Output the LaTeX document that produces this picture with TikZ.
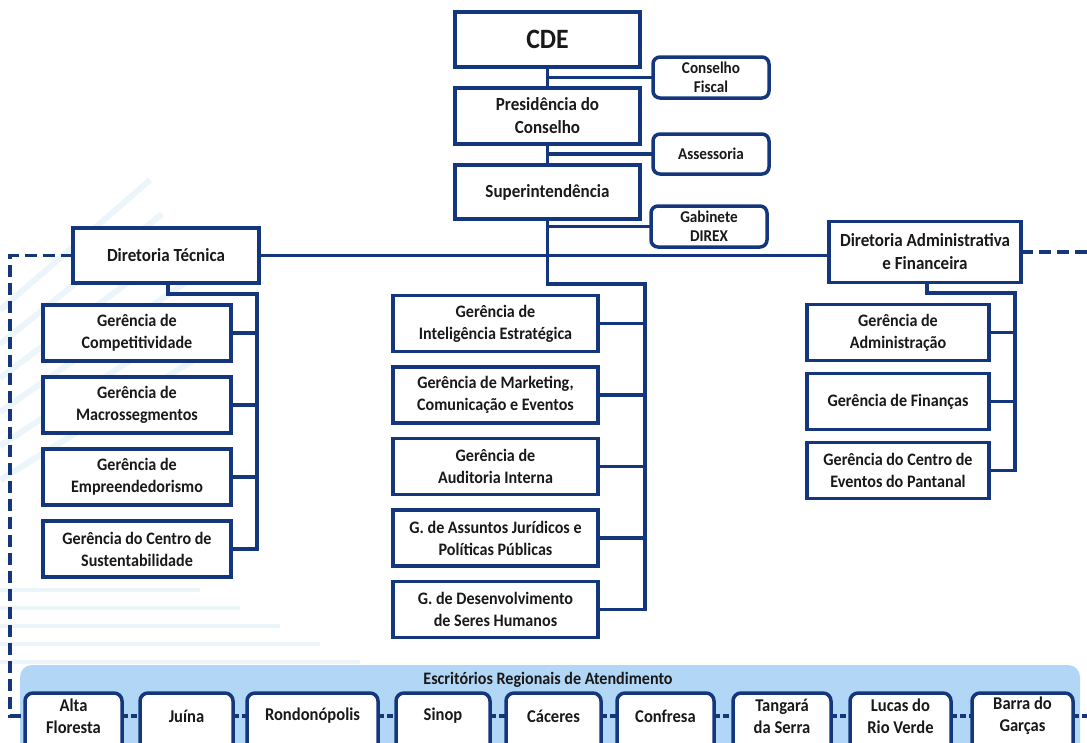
\documentclass[tikz,border=0pt]{standalone}
\usepackage{fontspec}
\setmainfont{Carlito}[BoldFeatures={FakeStretch=0.92}]
\usetikzlibrary{positioning}
\definecolor{navy}{RGB}{20,54,124}
\definecolor{barblue}{RGB}{178,214,246}
\definecolor{streak}{RGB}{236,245,250}

\begin{document}
\begin{tikzpicture}[
        x=1pt, y=-1pt,
        box/.style={rectangle, draw=navy, line width=3.5pt, fill=white, outer sep=0pt, inner sep=2pt, minimum width=185pt, minimum height=55pt, align=center, text=black!90, font=\fontsize{18.5}{23}\selectfont\bfseries},
        sidebox/.style={box, rounded corners=7pt, minimum width=116pt, minimum height=41pt, font=\fontsize{16.5}{19}\selectfont\bfseries},
        unit/.style={box, minimum height=56pt, font=\fontsize{17.5}{22}\selectfont\bfseries},
        office/.style={box, rounded corners=8pt, minimum height=64pt, anchor=north},
        officetext/.style={align=center, text=black!90, font=\fontsize{18}{22}\selectfont\bfseries, yshift=9pt},
        link/.style={draw=navy, line width=3.5pt},
        dashlink/.style={link, dash pattern=on 12pt off 6pt},
        minidash/.style={link, dash pattern=on 6pt off 3pt}
    ]
        \useasboundingbox (0,0) rectangle (1087,742);
        \clip (0,0) rectangle (1087,742);

        % Faint background streaks
        \foreach \i in {0,...,5}
            \draw[streak, line width=6pt] (0,310+34*\i) -- (150+12*\i,180+34*\i);
        \foreach \i in {0,...,4}
            \draw[streak, line width=4pt] (0,590+18*\i) -- (200+40*\i,590+18*\i);

        % Top chain
        \node[box, font=\fontsize{28}{30}\selectfont\bfseries] (cde) at (547.5,39.5) {CDE};
        \node[box, minimum height=56pt] (pres) at (547.5,116) {Presidência do\\Conselho};
        \node[box, minimum height=54pt] (sup) at (547.5,192) {Superintendência};
        \node[sidebox] (fiscal) at (711,77.5) {Conselho\\Fiscal};
        \node[sidebox, minimum height=40pt] (assess) at (711,154) {Assessoria};
        \node[sidebox] (gab) at (709,226.5) {Gabinete\\DIREX};

        % Directorates
        \node[box, minimum width=186pt] (dtec) at (166,255.5) {Diretoria Técnica};
        \node[box, minimum width=192pt, minimum height=61pt] (dadm) at (925,252) {Diretoria Administrativa\\e Financeira};

        % Technical managements
        \node[unit, minimum width=188pt] (comp) at (137,333) {Gerência de\\Competitividade};
        \node[unit, minimum width=188pt] (macro) [below=16pt of comp] {Gerência de\\Macrossegmentos};
        \node[unit, minimum width=188pt] (empre) [below=16pt of macro] {Gerência de\\Empreendedorismo};
        \node[unit, minimum width=188pt] (sust) [below=16pt of empre] {Gerência do Centro de\\Sustentabilidade};

        % Managements under the superintendence
        \node[unit, minimum width=205pt] (intel) at (495.5,323.5) {Gerência de\\Inteligência Estratégica};
        \node[unit, minimum width=205pt] (mkt) [below=15.5pt of intel] {Gerência de Marketing,\\Comunicação e Eventos};
        \node[unit, minimum width=205pt] (audit) [below=15.5pt of mkt] {Gerência de\\Auditoria Interna};
        \node[unit, minimum width=205pt] (jur) [below=15.5pt of audit] {G. de Assuntos Jurídicos e\\Políticas Públicas};
        \node[unit, minimum width=205pt] (dsh) [below=15.5pt of jur] {G. de Desenvolvimento\\de Seres Humanos};

        % Administrative managements
        \node[unit, minimum width=182pt] (adm) at (898,332.5) {Gerência de\\Administração};
        \node[unit, minimum width=182pt] (fin) [below=13pt of adm] {Gerência de Finanças};
        \node[unit, minimum width=182pt] (cep) [below=13pt of fin] {Gerência do Centro de\\Eventos do Pantanal};

        % Bus corners
        \coordinate (lbus) at (257,294);
        \coordinate (mbus) at (645,284);
        \coordinate (rbus) at (1015,293);

        % Lines
        \draw[link] (cde) -- (pres);
        \draw[link] (pres) -- (sup);
        \draw[link] (fiscal.west) -- (fiscal.west -| cde.south);
        \draw[link] (assess.west) -- (assess.west -| pres.south);
        \draw[link] (gab.west) -- (gab.west -| sup.south);
        \draw[link] (dtec.east) -- (dtec.east -| dadm.west);

        \draw[link] ([xshift=2pt]dtec.south) |- (lbus) |- (sust.east);
        \draw[link] (comp.east) -- (comp.east -| lbus);
        \draw[link] (macro.east) -- (macro.east -| lbus);
        \draw[link] (empre.east) -- (empre.east -| lbus);

        \draw[link] (sup.south) |- (mbus) |- (dsh.east);
        \draw[link] (intel.east) -- (intel.east -| mbus);
        \draw[link] (mkt.east) -- (mkt.east -| mbus);
        \draw[link] (audit.east) -- (audit.east -| mbus);
        \draw[link] (jur.east) -- (jur.east -| mbus);

        \draw[link] ([xshift=2pt]dadm.south) |- (rbus) |- (cep.east);
        \draw[link] (adm.east) -- (adm.east -| rbus);
        \draw[link] (fin.east) -- (fin.east -| rbus);

        % Regional offices
        \fill[barblue, rounded corners=12pt] (20,665) rectangle (1080,780);
        \node[font=\fontsize{17.5}{20}\selectfont\bfseries, text=black!90] (bartitle) at (548,680) {Escritórios Regionais de Atendimento};

        \node[office, minimum width=97pt, label={[officetext]center:{Alta\\Floresta}}] (alta) at (73.5,693) {};
        \node[office, minimum width=93pt, label={[officetext]center:Juína}] (juina) at (186.5,693) {};
        \node[office, minimum width=131pt, label={[officetext]center:Rondonópolis}] (rond) at (312.5,693) {};
        \node[office, minimum width=94pt, label={[officetext]center:Sinop}] (sinop) at (443,693) {};
        \node[office, minimum width=95pt, label={[officetext]center:Cáceres}] (caceres) at (553.5,693) {};
        \node[office, minimum width=97pt, label={[officetext]center:Confresa}] (confresa) at (665.5,693) {};
        \node[office, minimum width=98pt, label={[officetext]center:{Tangará\\da Serra}}] (tangara) at (782,693) {};
        \node[office, minimum width=101pt, label={[officetext]center:{Lucas do\\Rio Verde}}] (lucas) at (900.5,693) {};
        \node[office, minimum width=101pt, label={[officetext]center:{Barra do\\Garças}}] (barra) at (1022.5,693) {};

        \draw[minidash] ([yshift=9pt]alta.east) -- ([yshift=9pt]juina.west);
        \draw[minidash] ([yshift=9pt]juina.east) -- ([yshift=9pt]rond.west);
        \draw[minidash] ([yshift=9pt]rond.east) -- ([yshift=9pt]sinop.west);
        \draw[minidash] ([yshift=9pt]sinop.east) -- ([yshift=9pt]caceres.west);
        \draw[minidash] ([yshift=9pt]caceres.east) -- ([yshift=9pt]confresa.west);
        \draw[minidash] ([yshift=9pt]confresa.east) -- ([yshift=9pt]tangara.west);
        \draw[minidash] ([yshift=9pt]tangara.east) -- ([yshift=9pt]lucas.west);
        \draw[minidash] ([yshift=9pt]lucas.east) -- ([yshift=9pt]barra.west);

        % Dashed links to the offices
        \coordinate (ldash) at (10,716);
        \coordinate (rdash) at (1087,252);
        \coordinate (bdash) at (1087,716);
        \draw[dashlink] (dtec.west) -| (ldash) -- ([yshift=9pt]alta.west);
        \draw[dashlink] (dadm.east) -- (rdash);
        \draw[minidash] ([yshift=9pt]barra.east) -- (bdash);

    \end{tikzpicture}
\end{document}
